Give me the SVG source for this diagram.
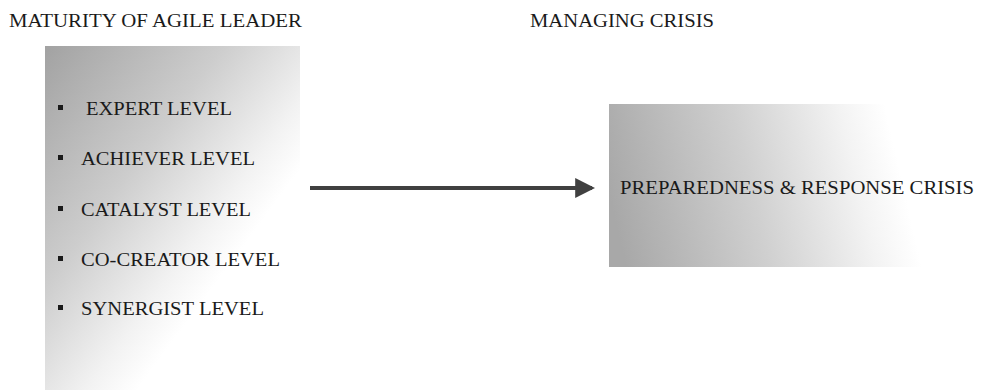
<svg xmlns="http://www.w3.org/2000/svg" width="985" height="390" viewBox="0 0 985 390">
<defs>
<linearGradient id="gL" x1="0" y1="0" x2="1" y2="1">
<stop offset="0" stop-color="#a2a2a2"/>
<stop offset="0.35" stop-color="#cdcdcd"/>
<stop offset="0.58" stop-color="#f2f2f2"/>
<stop offset="0.68" stop-color="#ffffff"/>
</linearGradient>
<linearGradient id="gR" x1="0" y1="0.55" x2="1" y2="0.45">
<stop offset="0" stop-color="#a8a8a8"/>
<stop offset="0.38" stop-color="#d0d0d0"/>
<stop offset="0.66" stop-color="#f3f3f3"/>
<stop offset="0.78" stop-color="#ffffff"/>
</linearGradient>
<marker id="ah" markerWidth="5" markerHeight="5" refX="4.2" refY="2.5" orient="auto" markerUnits="strokeWidth">
<path d="M0,0 L5,2.5 L0,5 Z" fill="#404040"/>
</marker>
<style>
text{font-family:"Liberation Serif","Times New Roman",serif;fill:#1a1a1a;}
.h{font-size:19px;}
.i{font-size:19px;}
.b{fill:#1a1a1a;}
</style>
</defs>
<rect width="985" height="390" fill="#fff"/>
<text class="h" x="9" y="27" textLength="293" lengthAdjust="spacingAndGlyphs">MATURITY OF AGILE LEADER</text>
<text class="h" x="530" y="27" textLength="184" lengthAdjust="spacingAndGlyphs">MANAGING CRISIS</text>
<g id="maturity">
<rect x="45" y="46" width="255" height="344" fill="url(#gL)"/>
<rect class="b" x="58" y="105" width="5" height="5"/>
<text class="i" x="86" y="115" textLength="146" lengthAdjust="spacingAndGlyphs">EXPERT LEVEL</text>
<rect class="b" x="58" y="155" width="5" height="5"/>
<text class="i" x="81" y="165" textLength="174" lengthAdjust="spacingAndGlyphs">ACHIEVER LEVEL</text>
<rect class="b" x="58" y="206" width="5" height="5"/>
<text class="i" x="81" y="216" textLength="170" lengthAdjust="spacingAndGlyphs">CATALYST LEVEL</text>
<rect class="b" x="58" y="256" width="5" height="5"/>
<text class="i" x="81" y="266" textLength="199" lengthAdjust="spacingAndGlyphs">CO-CREATOR LEVEL</text>
<rect class="b" x="58" y="305" width="5" height="5"/>
<text class="i" x="81" y="315" textLength="183" lengthAdjust="spacingAndGlyphs">SYNERGIST LEVEL</text>
</g>
<g id="crisis">
<rect x="609" y="104" width="376" height="163" fill="url(#gR)"/>
<text class="i" x="620" y="194" textLength="354" lengthAdjust="spacingAndGlyphs">PREPAREDNESS &amp; RESPONSE CRISIS</text>
</g>
<g id="connectors">
<line x1="310" y1="188" x2="592" y2="188" stroke="#404040" stroke-width="4" marker-end="url(#ah)"/>
</g>
</svg>
